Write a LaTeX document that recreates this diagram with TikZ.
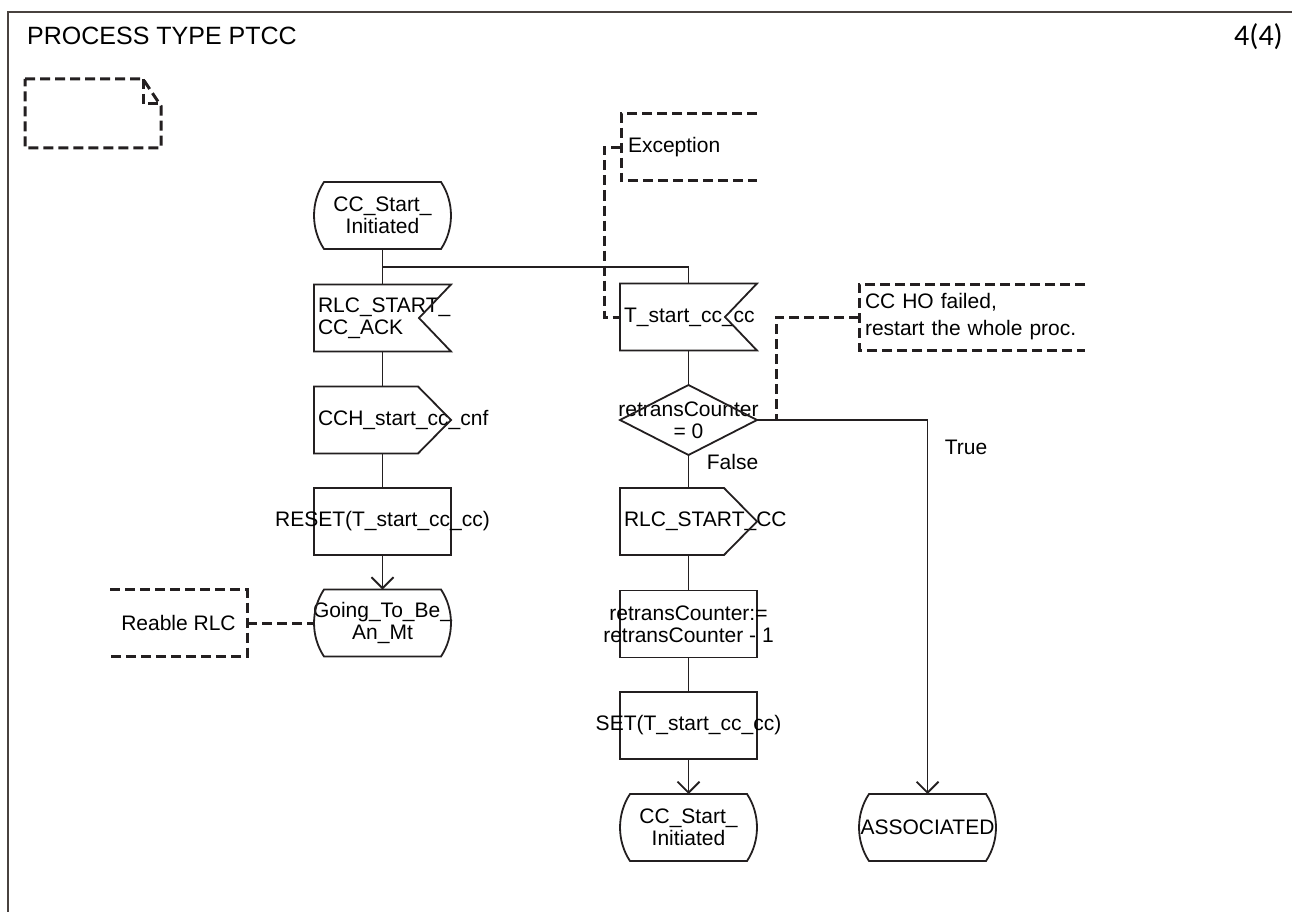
\documentclass[tikz,border=0pt]{standalone}
\usepackage{fontspec}
\setmainfont{Liberation Sans}
\newfontfamily\pagefont{Carlito}
\usetikzlibrary{calc,arrows.meta}
\newcommand\bodyfont{\fontsize{21}{22}\selectfont}
\newcommand\commfont{\fontsize{21}{27}\selectfont}
\newcommand\ttlfont{\fontsize{25}{28}\selectfont}
\newcommand\pgnfont{\pagefont\fontsize{30}{32}\selectfont}
\newcommand\mkc[1]{\makebox[137pt][c]{#1}}
\newcommand\mkl[1]{\makebox[129pt][l]{#1}}
\newcommand\drawstate[1]{\draw[sym] ($(#1.north west)+(10,0)$) -- ($(#1.north east)+(-10,0)$) .. controls ($(#1.north east)+(3.3,20)$) and ($(#1.south east)+(3.3,-20)$) .. ($(#1.south east)+(-10,0)$) -- ($(#1.south west)+(10,0)$) .. controls ($(#1.south west)+(-3.3,-20)$) and ($(#1.north west)+(-3.3,20)$) .. cycle;}
\newcommand\drawinput[1]{\draw[sym] (#1.north west) -- (#1.north east) -- ($(#1.east)+(-32,0)$) -- (#1.south east) -- (#1.south west) -- cycle;}
\newcommand\drawoutput[1]{\draw[sym] (#1.north west) -- ($(#1.north east)+(-33,0)$) -- (#1.east) -- ($(#1.south east)+(-33,0)$) -- (#1.south west) -- cycle;}
\newcommand\drawdiamond[1]{\draw[sym] (#1.north) -- (#1.east) -- (#1.south) -- (#1.west) -- cycle;}
\newcommand\commentleft[1]{\draw[com] (#1.north east) -- (#1.north west) -- (#1.south west) -- (#1.south east);}
\newcommand\commentright[1]{\draw[com] (#1.north west) -- (#1.north east) -- (#1.south east) -- (#1.south west);}
\definecolor{ink}{HTML}{231F20}
\definecolor{framec}{HTML}{48423F}
\tikzset{
  sym/.style={draw=ink, line width=1.8pt, line join=miter},
  com/.style={draw=ink, line width=3pt, dash pattern=on 10pt off 5pt},
  base/.style={minimum width=137pt, minimum height=67pt, inner sep=0pt, outer sep=0pt, font=\bodyfont, text=black},
  statebox/.style={base, align=center},
  iobox/.style={base, align=left, inner xsep=4pt},
  taskbox/.style={base, align=center, sym},
  diabox/.style={base, align=center, minimum height=70pt},
  conn/.style={sym},
  arr/.style={sym, -{Straight Barb[length=11pt,width=22pt]}},
  lbl/.style={font=\bodyfont, inner sep=0pt},
}
\begin{document}
\begin{tikzpicture}[x=1pt,y=-1pt]
\useasboundingbox (0,0) rectangle (1292,912);
% frame
\draw[draw=framec, line width=2.2pt] (8,912) -- (8,12) -- (1292,12);
\node[anchor=west, font=\ttlfont, inner sep=0pt] (title) at (27,36) {PROCESS TYPE PTCC};
\node[anchor=east, font=\pgnfont, inner sep=0pt] (page) at (1283,37) {4(4)};
% text symbol
\draw[com] (25,79) -- (143,79) -- (161,106) -- (161,148) -- (25,148) -- cycle;
\draw[com] (143,79) -- (143,104) -- (161,104);

% left column
\node[statebox] (s1) at (382.5,215.5) {\mkc{CC\_Start\_}\\\mkc{Initiated}};
\node[iobox] (i1) at (382.5,318) {\mkl{RLC\_START\_}\\\mkl{CC\_ACK}};
\node[iobox] (o1) at (382.5,420) {\mkl{CCH\_start\_cc\_cnf}};
\node[taskbox] (t1) at (382.5,521.5) {\mkc{RESET(T\_start\_cc\_cc)}};
\node[statebox] (s2) at (382.5,623) {\mkc{Going\_To\_Be\_}\\\mkc{An\_Mt}};
\drawstate{s1}
\drawinput{i1}
\drawoutput{o1}
\drawstate{s2}

% right column
\node[iobox] (i2) at (688.5,317) {\mkl{T\_start\_cc\_cc}};
\node[diabox] (d1) at (688.5,420) {\mkc{retransCounter}\\\mkc{= 0}};
\node[iobox] (o2) at (688.5,521.5) {\mkl{RLC\_START\_CC}};
\node[taskbox] (t2) at (688.5,624) {\mkc{retransCounter:=}\\\mkc{retransCounter - 1}};
\node[taskbox] (t3) at (688.5,725.5) {\mkc{SET(T\_start\_cc\_cc)}};
\node[statebox] (s3) at (688.5,827.5) {\mkc{CC\_Start\_}\\\mkc{Initiated}};
\node[statebox] (s4) at (927.5,827.5) {\mkc{ASSOCIATED}};
\drawinput{i2}
\drawdiamond{d1}
\drawoutput{o2}
\drawstate{s3}
\drawstate{s4}

% comments
\node[base, font=\bodyfont, align=left, minimum width=136pt, inner xsep=7pt, anchor=west, text width=122pt] (exc) at (621,147.5) {Exception};
\commentleft{exc}
\node[base, font=\commfont, align=left, minimum width=226pt, minimum height=66pt, inner xsep=6pt, anchor=west, text width=214pt] (ccho) at (859,317) {CC HO failed,\\restart the whole proc.};
\commentleft{ccho}
\node[base, font=\bodyfont, align=center, anchor=east] (rea) at (247,623) {Reable RLC};
\commentright{rea}

% connectors
\coordinate (br) at ($(s1.south)!0.5!(i1.north)$);
\draw[conn] (s1.south) -- (i1.north);
\draw[conn] (br) -| (i2.north);
\draw[conn] (i1.south) -- (o1.north);
\draw[conn] (o1.south) -- (t1.north);
\draw[arr] (t1.south) -- (s2.north);
\draw[conn] (i2.south) -- (d1.north);
\draw[conn] (d1.south) -- (o2.north);
\draw[conn] (o2.south) -- (t2.north);
\draw[conn] (t2.south) -- (t3.north);
\draw[arr] (t3.south) -- (s3.north);
\draw[arr] (d1.east) -| (s4.north);
\node[lbl] (ltrue) at (966,447) {True};
\node[lbl] (lfalse) at (732.5,462) {False};

% comment connectors
\coordinate (ej) at (604,147.5);
\draw[com] (exc.west) -- (ej) |- (i2.west);
\coordinate (cj) at ($(d1.east)+(19,0)$);
\draw[com] (ccho.west) -| (cj);
\draw[com] (rea.east) -- (s2.west);
\end{tikzpicture}
\end{document}
